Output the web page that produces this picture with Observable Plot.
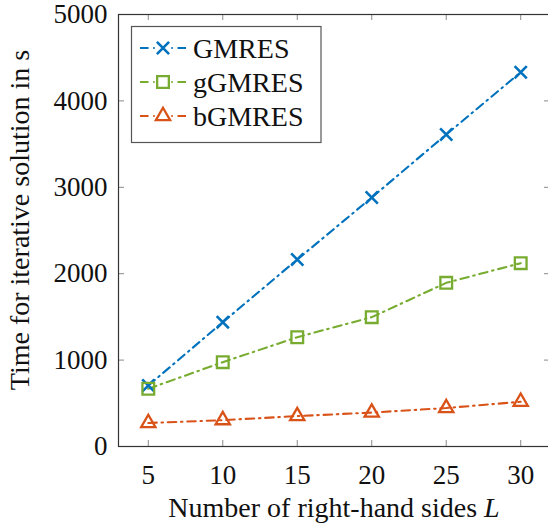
<!DOCTYPE html>
<html>
<head>
<meta charset="utf-8">
<script src="https://cdn.jsdelivr.net/npm/d3@7"></script>
<script src="https://cdn.jsdelivr.net/npm/@observablehq/plot@0.6"></script>
<style>
  html, body { margin: 0; padding: 0; background: #fff; }
  #chart svg { display: block; }
  #chart svg text { font-family: "Liberation Serif", "DejaVu Serif", serif !important; }
</style>
</head>
<body>
<div id="chart"></div>
<script>
// ---- data ----
const L = [5, 10, 15, 20, 25, 30];
const gmres  = [706, 1439, 2164, 2882, 3611, 4332];
const ggmres = [668, 976, 1265, 1497, 1894, 2122];
const bgmres = [272, 305, 352, 393, 445, 518];
const seriesNames = ["GMRES", "gGMRES", "bGMRES"];
const seriesColors = ["#0072BD", "#77AC30", "#D95319"];
const seriesSymbols = ["times", "square", "triangle"];
const xTicks = [5, 10, 15, 20, 25, 30];
const yTicks = [0, 1000, 2000, 3000, 4000, 5000];
const xLabel = "Number of right-hand sides ";
const xLabelItalic = "L";
const yLabel = "Time for iterative solution in s";

const seriesValues = [gmres, ggmres, bgmres];
const rows = seriesNames.flatMap((name, i) =>
  L.map((l, j) => ({series: name, L: l, t: seriesValues[i][j]})));

const W = 548, H = 530;
const mL = 118, mR = -2, mT = 14, mB = 84;
const plotW = W - mL - mR, plotH = H - mT - mB;
const tickLen = 6;
const FS = 27, FS2 = 28;
const dash = "8.5,4.7,1.5,4.8";
const LW = 2.1;
const tickColor = "#8a8a8a";
const SERIF = "'Liberation Serif', 'DejaVu Serif', serif";

const symbolR = {times: 5.6, square: 6.6, triangle: 5.3};
const symbolSW = {times: 2.6, square: 2.3, triangle: 2.3};

const marks = [
  // inward ticks
  Plot.tickX(xTicks, {x: d => d, insetTop: plotH - tickLen, stroke: tickColor, strokeWidth: 1}),
  Plot.tickX(xTicks, {x: d => d, insetBottom: plotH - tickLen, stroke: tickColor, strokeWidth: 1}),
  Plot.tickY(yTicks, {y: d => d, insetRight: plotW - tickLen, stroke: tickColor, strokeWidth: 1}),
  Plot.tickY(yTicks, {y: d => d, insetLeft: plotW - tickLen, stroke: tickColor, strokeWidth: 1}),
  Plot.frame({stroke: "#333", strokeWidth: 1.2}),
  Plot.axisX(xTicks, {tickSize: 0, tickPadding: 18, fontSize: FS, fill: "#111", label: null, tickFormat: d3.format("d")}),
  Plot.axisY(yTicks, {tickSize: 0, tickPadding: 11, fontSize: FS, fill: "#111", label: null, tickFormat: d3.format("d")}),
];
seriesNames.forEach((name, i) => {
  const data = rows.filter(r => r.series === name);
  marks.push(Plot.line(data, {x: "L", y: "t", stroke: seriesColors[i], strokeWidth: LW, strokeDasharray: dash}));
});
seriesNames.forEach((name, i) => {
  const data = rows.filter(r => r.series === name);
  const sym = seriesSymbols[i];
  marks.push(Plot.dot(data, {x: "L", y: "t", symbol: sym, r: symbolR[sym], stroke: seriesColors[i], fill: "none", strokeWidth: symbolSW[sym]}));
});

const chart = Plot.plot({
  width: W, height: H,
  marginLeft: mL, marginRight: mR, marginTop: mT, marginBottom: mB,
  style: {background: "#fff", overflow: "hidden", fontFamily: SERIF},
  x: {domain: [3, 32], axis: null},
  y: {domain: [0, 5000], axis: null},
  marks
});
document.getElementById("chart").appendChild(chart);

const svg = d3.select(chart);
// axis titles
const xt = svg.append("text")
  .attr("x", 334).attr("y", 517)
  .attr("text-anchor", "middle")
  .attr("font-size", FS2).attr("fill", "#111");
xt.append("tspan").text(xLabel);
xt.append("tspan").attr("font-style", "italic").text(xLabelItalic);
svg.append("text")
  .attr("transform", "translate(29,220) rotate(-90)")
  .attr("text-anchor", "middle")
  .attr("font-size", FS2).attr("fill", "#111")
  .text(yLabel);

// legend
const lg = svg.append("g");
lg.append("rect").attr("x", 131.5).attr("y", 26.5).attr("width", 189.5).attr("height", 116)
  .attr("fill", "#fff").attr("stroke", "#555").attr("stroke-width", 1.2);
const rowY = [48, 82, 116];
const symbolGen = {times: d3.symbolTimes, square: d3.symbolSquare, triangle: d3.symbolTriangle};
seriesNames.forEach((name, i) => {
  const y = rowY[i];
  [[140, 157], [186, 169]].forEach(([a, b]) => {
    lg.append("line").attr("x1", a).attr("x2", b).attr("y1", y).attr("y2", y)
      .attr("stroke", seriesColors[i]).attr("stroke-width", LW).attr("stroke-dasharray", dash);
  });
  const sym = seriesSymbols[i];
  const r = symbolR[sym];
  lg.append("path").attr("transform", `translate(163,${y})`)
    .attr("d", d3.symbol(symbolGen[sym], Math.PI * r * r)())
    .attr("fill", "none").attr("stroke", seriesColors[i]).attr("stroke-width", symbolSW[sym]);
  lg.append("text").attr("x", 193).attr("y", y + 9.5)
    .attr("text-anchor", "start")
    .attr("font-size", FS2).attr("fill", "#111").text(name);
});
svg.selectAll("text").style("font-family", SERIF);
</script>
</body>
</html>
